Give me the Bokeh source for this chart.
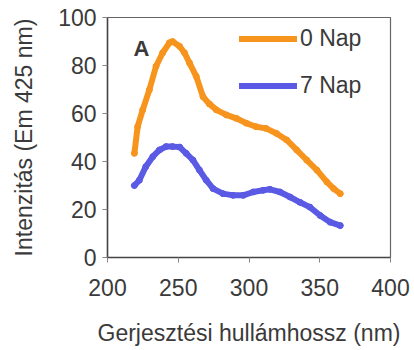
from bokeh.plotting import figure
from bokeh.models import FixedTicker, Legend, LegendItem, Label, Range1d
from bokeh.embed import file_html
from bokeh.resources import INLINE

# Data
x_0nap = [219, 221.3, 224.9, 229.6, 234.3, 239, 243.8, 246, 250.9, 254.4, 258, 262.7,
          267.5, 272, 277, 284, 291, 298, 305, 312, 319.5, 326.6, 333.7, 340.8, 348,
          355, 359.8, 364.5]
y_0nap = [43.4, 54.5, 61.5, 69.9, 79.7, 85.3, 89.5, 90, 88, 85.3, 81, 75.5,
          67, 64, 61.5, 59.4, 58, 56, 54.5, 53.8, 51.7, 49, 44.8, 40.6, 36.4,
          31.5, 28.7, 26.6]
x_7nap = [219, 222.5, 227, 232, 236.7, 241.4, 246, 251, 255.6, 260.4, 265, 269.8,
          274.6, 281.6, 288.8, 295.9, 303, 310, 314.8, 321.9, 329, 336, 343, 350.3,
          357.4, 364.5]
y_7nap = [30, 32.2, 37.8, 42, 44.8, 46.2, 46.2, 46, 43.4, 40.6, 36.4, 32.2,
          28.7, 26.6, 25.9, 25.9, 27.3, 28, 28.4, 27.3, 25.2, 23, 21, 17.5,
          14.7, 13.3]
x_ticks = [200, 250, 300, 350, 400]
y_ticks = [0, 20, 40, 60, 80, 100]
series_names = ["0 Nap", "7 Nap"]
panel_label = "A"

ORANGE = "#F7941E"
BLUE = "#5A5AE4"
TEXT = "#3a3a3a"
FONT = "Liberation Sans"

p = figure(width=414, height=350, output_backend="svg", toolbar_location=None,
           x_range=Range1d(200, 400), y_range=Range1d(0, 100),
           min_border_left=107, min_border_right=24, min_border_top=17,
           min_border_bottom=93)
p.background_fill_color = "white"
p.border_fill_color = "white"
p.outline_line_color = "#666666"
p.outline_line_width = 1.2
p.xgrid.visible = False
p.ygrid.visible = False

r0 = p.line(x_0nap, y_0nap, line_color=ORANGE, line_width=6, line_join="round", line_cap="round")
p.scatter(x_0nap, y_0nap, size=6, color=ORANGE)
r1 = p.line(x_7nap, y_7nap, line_color=BLUE, line_width=6, line_join="round", line_cap="round")
p.scatter(x_7nap, y_7nap, size=6, color=BLUE)

for ax, ticks in ((p.xaxis[0], x_ticks), (p.yaxis[0], y_ticks)):
    ax.ticker = FixedTicker(ticks=ticks)
    ax.minor_tick_line_color = None
    ax.major_tick_in = 0
    ax.major_tick_out = 5
    ax.major_tick_line_color = "#888888"
    ax.axis_line_color = "#444444"
    ax.axis_line_width = 1.5
    ax.major_label_text_font = FONT
    ax.major_label_text_font_size = "23px"
    ax.major_label_text_color = TEXT
    ax.axis_label_text_font = FONT
    ax.axis_label_text_font_style = "normal"
    ax.axis_label_text_font_size = "23px"
    ax.axis_label_text_color = TEXT

p.xaxis.axis_label = "Gerjesztési hullámhossz (nm)"
p.yaxis.axis_label = "Intenzitás (Em 425 nm)"
p.xaxis.major_label_standoff = 16
p.xaxis.axis_label_standoff = 21
p.yaxis.major_label_standoff = 6
p.yaxis.axis_label_standoff = 18

legend = Legend(items=[LegendItem(label=series_names[0], renderers=[r0]),
                       LegendItem(label=series_names[1], renderers=[r1])],
                location=(132, 158), orientation="vertical",
                glyph_width=58, glyph_height=23, label_height=23,
                label_standoff=3, spacing=20, padding=0, margin=0,
                border_line_color=None, background_fill_alpha=0,
                label_text_font=FONT, label_text_font_size="23px",
                label_text_color=TEXT)
p.add_layout(legend)

p.add_layout(Label(x=224, y=87, text=panel_label, text_font=FONT,
                   text_font_style="bold", text_font_size="22px",
                   text_color=TEXT, text_align="center", text_baseline="middle"))

open("out.html", "w").write(file_html(p, INLINE))
